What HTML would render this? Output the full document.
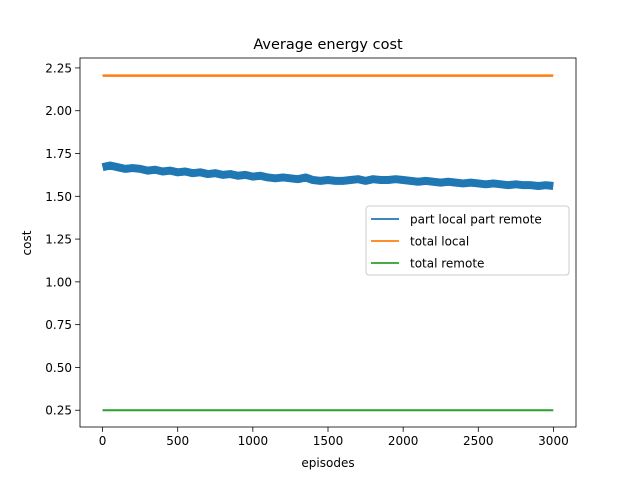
<!DOCTYPE html>
<html><head><meta charset="utf-8"><style>
body{margin:0;background:#fff}
svg{font-family:"DejaVu Sans","Liberation Sans",sans-serif}
</style></head><body>
<svg id="chart" width="640" height="480" xmlns="http://www.w3.org/2000/svg">
<rect width="640" height="480" fill="#fff"/>
<text x="328" y="49" font-size="14.5" text-anchor="middle">Average energy cost</text>
<g id="plot"></g>
<rect x="80" y="58" width="496" height="369" fill="none" stroke="#000" stroke-width="0.8"/>
<text x="328" y="467" font-size="12" text-anchor="middle">episodes</text>
<text x="31" y="243" font-size="12" text-anchor="middle" transform="rotate(-90 31 243)">cost</text>
<g>
<rect x="366" y="206" width="203" height="69" rx="3" fill="#fff" fill-opacity="0.8" stroke="#ccc"/>
<line x1="371" y1="219" x2="399" y2="219" stroke="#1f77b4" stroke-width="1.8"/>
<text x="410" y="223.5" font-size="12">part local part remote</text>
<line x1="371" y1="241" x2="399" y2="241" stroke="#ff7f0e" stroke-width="1.8"/>
<text x="410" y="245.5" font-size="12">total local</text>
<line x1="371" y1="263" x2="399" y2="263" stroke="#2ca02c" stroke-width="1.8"/>
<text x="410" y="267.5" font-size="12">total remote</text>
</g>
</svg>
<script>
const xTicks=[0,500,1000,1500,2000,2500,3000];
const yTicks=[0.25,0.50,0.75,1.00,1.25,1.50,1.75,2.00,2.25];
const episodes=[0,50,100,150,200,250,300,350,400,450,500,550,600,650,700,750,800,850,900,950,1000,1050,1100,1150,1200,1250,1300,1350,1400,1450,1500,1550,1600,1650,1700,1750,1800,1850,1900,1950,2000,2050,2100,2150,2200,2250,2300,2350,2400,2450,2500,2550,2600,2650,2700,2750,2800,2850,2900,2950,2999];
const partValues=[1.67,1.68,1.67,1.66,1.665,1.66,1.65,1.655,1.645,1.65,1.64,1.645,1.635,1.64,1.63,1.635,1.625,1.63,1.62,1.625,1.615,1.62,1.61,1.605,1.61,1.605,1.60,1.61,1.595,1.59,1.595,1.59,1.59,1.595,1.60,1.59,1.60,1.595,1.595,1.60,1.595,1.59,1.585,1.59,1.585,1.58,1.585,1.58,1.575,1.58,1.575,1.57,1.575,1.57,1.565,1.57,1.565,1.565,1.56,1.565,1.56];
const localValue=2.205;
const remoteValue=0.25;
const NS="http://www.w3.org/2000/svg";
const L=80,R=576,T=58,B=427,xmin=-150,xmax=3150,ymin=0.152,ymax=2.308;
function sx(v){return L+(v-xmin)/(xmax-xmin)*(R-L);}
function sy(v){return B-(v-ymin)/(ymax-ymin)*(B-T);}
const g=document.getElementById('plot');
function mk(tag,attrs){const e=document.createElementNS(NS,tag);for(const k in attrs)e.setAttribute(k,attrs[k]);g.appendChild(e);return e;}
xTicks.forEach(t=>{
 const l=mk('line',{x1:sx(t),x2:sx(t),y1:B,y2:B+4.9,stroke:'#000','stroke-width':0.8});
 
 
 const tx=mk('text',{x:sx(t),y:B+18,'font-size':12,'text-anchor':'middle'});
 tx.textContent=t;
 
 
});
yTicks.forEach(t=>{
 const l=mk('line',{x1:L-4.9,x2:L,y1:sy(t),y2:sy(t),stroke:'#000','stroke-width':0.8});
 
 
 const tx=mk('text',{x:L-8,y:sy(t)+4.5,'font-size':12,'text-anchor':'end'});
 tx.textContent=t.toFixed(2);
 
 
});
const pts=episodes.map((e,i)=>sx(e)+','+sy(partValues[i])).join(' ');
const p=mk('polyline',{points:pts,fill:'none',stroke:'#1f77b4','stroke-width':8,'stroke-linejoin':'round'});


const lo=mk('line',{x1:sx(0),x2:sx(2999),y1:sy(localValue),y2:sy(localValue),stroke:'#ff7f0e','stroke-width':2.5});


const re=mk('line',{x1:sx(0),x2:sx(2999),y1:sy(remoteValue),y2:sy(remoteValue),stroke:'#2ca02c','stroke-width':2});


</script>
</body></html>
